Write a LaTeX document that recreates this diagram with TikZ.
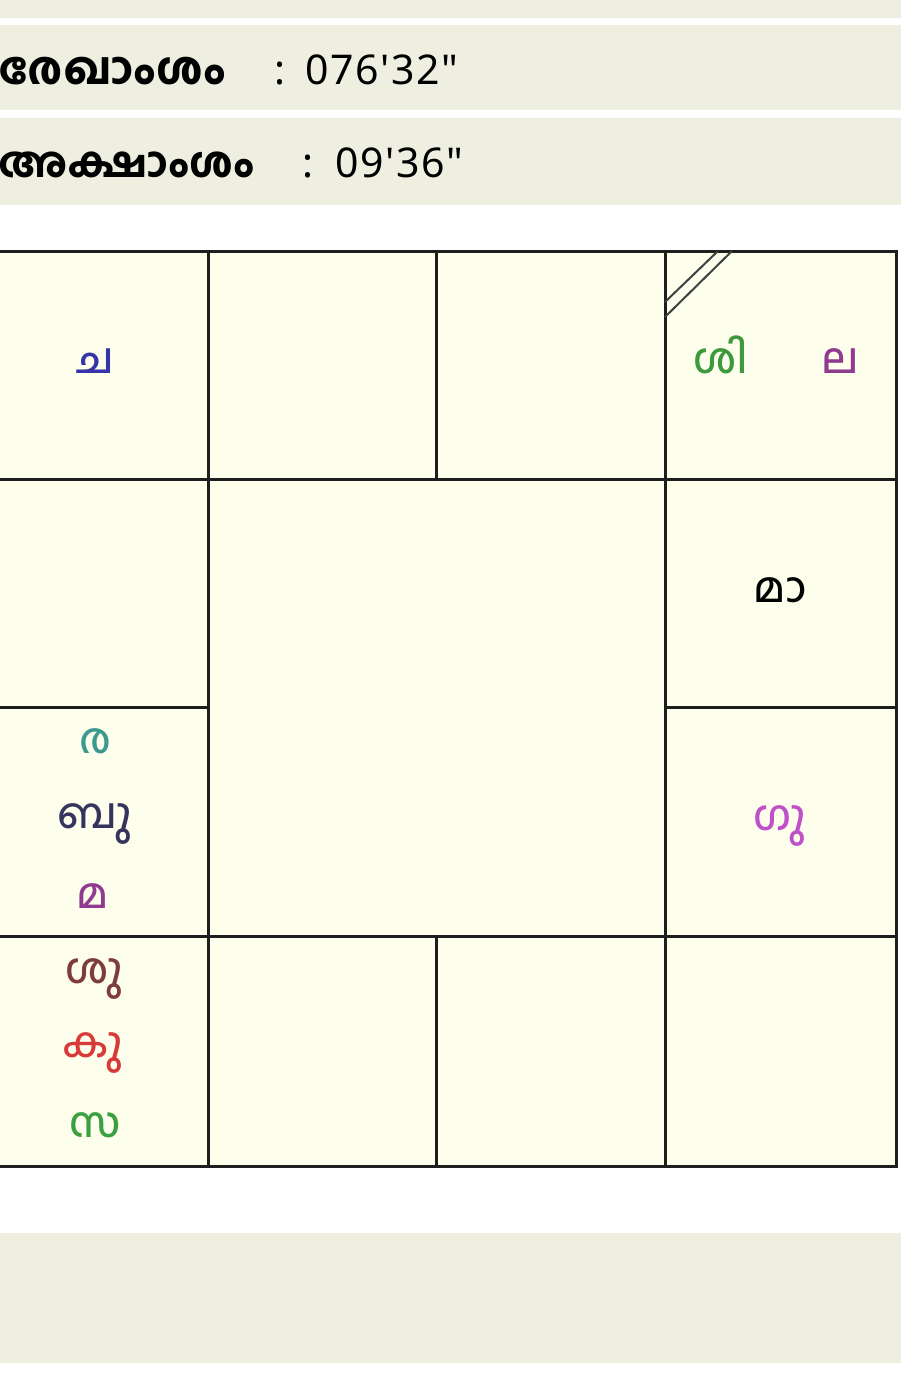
\documentclass[tikz,border=0pt]{standalone}
\usepackage{fontspec}
\newfontfamily\mlfont[Script=Malayalam]{Hind Kochi Medium}
\newfontfamily\mlbold[Script=Malayalam]{Hind Kochi Bold}
\newfontfamily\numfont[LetterSpace=4]{Noto Sans}
\definecolor{band}{HTML}{EFEFE1}
\definecolor{cellfill}{HTML}{FEFEEC}
\definecolor{gridline}{HTML}{1E1E1E}
\definecolor{cblue}{HTML}{3535A8}
\definecolor{cgreen}{HTML}{3C9A3C}
\definecolor{cpurple}{HTML}{903A90}
\definecolor{cteal}{HTML}{3A9A8E}
\definecolor{cnavy}{HTML}{34345E}
\definecolor{cmag}{HTML}{C050C8}
\definecolor{cbrown}{HTML}{7E3C3C}
\definecolor{cred}{HTML}{D83A3A}
\definecolor{cgreen2}{HTML}{3AA040}
\tikzset{
  hdr/.style={anchor=base west, inner sep=0pt, font=\mlbold\fontsize{43}{50}\selectfont},
  num/.style={anchor=base west, inner sep=0pt, font=\numfont\fontsize{41}{48}\selectfont},
  planet/.style={anchor=base, inner sep=0pt, font=\mlfont\fontsize{42}{48}\selectfont},
  gridl/.style={draw=gridline, line width=3pt},
}
\begin{document}
\begin{tikzpicture}[x=1pt,y=-1pt]
\useasboundingbox (0,0) rectangle (901,1388);
\clip (0,0) rectangle (901,1388);
% header bands
\fill[band] (0,0) rectangle (901,18);
\fill[band] (0,25) rectangle (901,110);
\fill[band] (0,118) rectangle (901,205);
\fill[band] (0,1233) rectangle (901,1363);
% header texts
\node[hdr, font=\mlbold\fontsize{44.8}{50}\selectfont] (lonlab) at (-2,85) {രേഖാംശം};
\node[num] (loncol) at (274,85) {:};
\node[num] (lonval) at (305,85) {076'32"};
\node[hdr, font=\mlbold\fontsize{42}{50}\selectfont] (latlab) at (-2,178) {അക്ഷാംശം};
\node[num] (latcol) at (302,178) {:};
\node[num] (latval) at (335,178) {09'36"};
% chart
\fill[cellfill] (-20,251) rectangle (896,1166);
\draw[gridl] (-20,251) rectangle (896,1166);
\draw[gridl] (-20,479) -- (896,479);
\draw[gridl] (-20,936) -- (896,936);
\draw[gridl] (-20,707) -- (208,707);
\draw[gridl] (665,707) -- (896,707);
\draw[gridl] (208,251) -- (208,1166);
\draw[gridl] (665,251) -- (665,1166);
\draw[gridl] (436,251) -- (436,479);
\draw[gridl] (436,936) -- (436,1166);
% lagna mark
\draw[draw=gridline!85, line width=2pt] (665,302) -- (718,251);
\draw[draw=gridline!85, line width=2pt] (665,317) -- (732,251);
% planets
\node[planet, text=cblue] (chandra) at (95,373) {ച};
\node[planet, text=cgreen] (shani) at (721,373) {ശി};
\node[planet, text=cpurple] (lagna) at (840,373) {ല};
\node[planet, text=black] (mandi) at (780,602) {മാ};
\node[planet, text=cteal] (ravi) at (95,753) {ര};
\node[planet, text=cnavy] (budha) at (95,828) {ബു};
\node[planet, text=cpurple] (kuja) at (93,908) {മ};
\node[planet, text=cmag] (guru) at (780,830) {ഗു};
\node[planet, text=cbrown] (shukra) at (94,983) {ശു};
\node[planet, text=cred] (ketu) at (93,1057) {കു};
\node[planet, text=cgreen2] (sarpa) at (95,1137) {സ};
\end{tikzpicture}
\end{document}
